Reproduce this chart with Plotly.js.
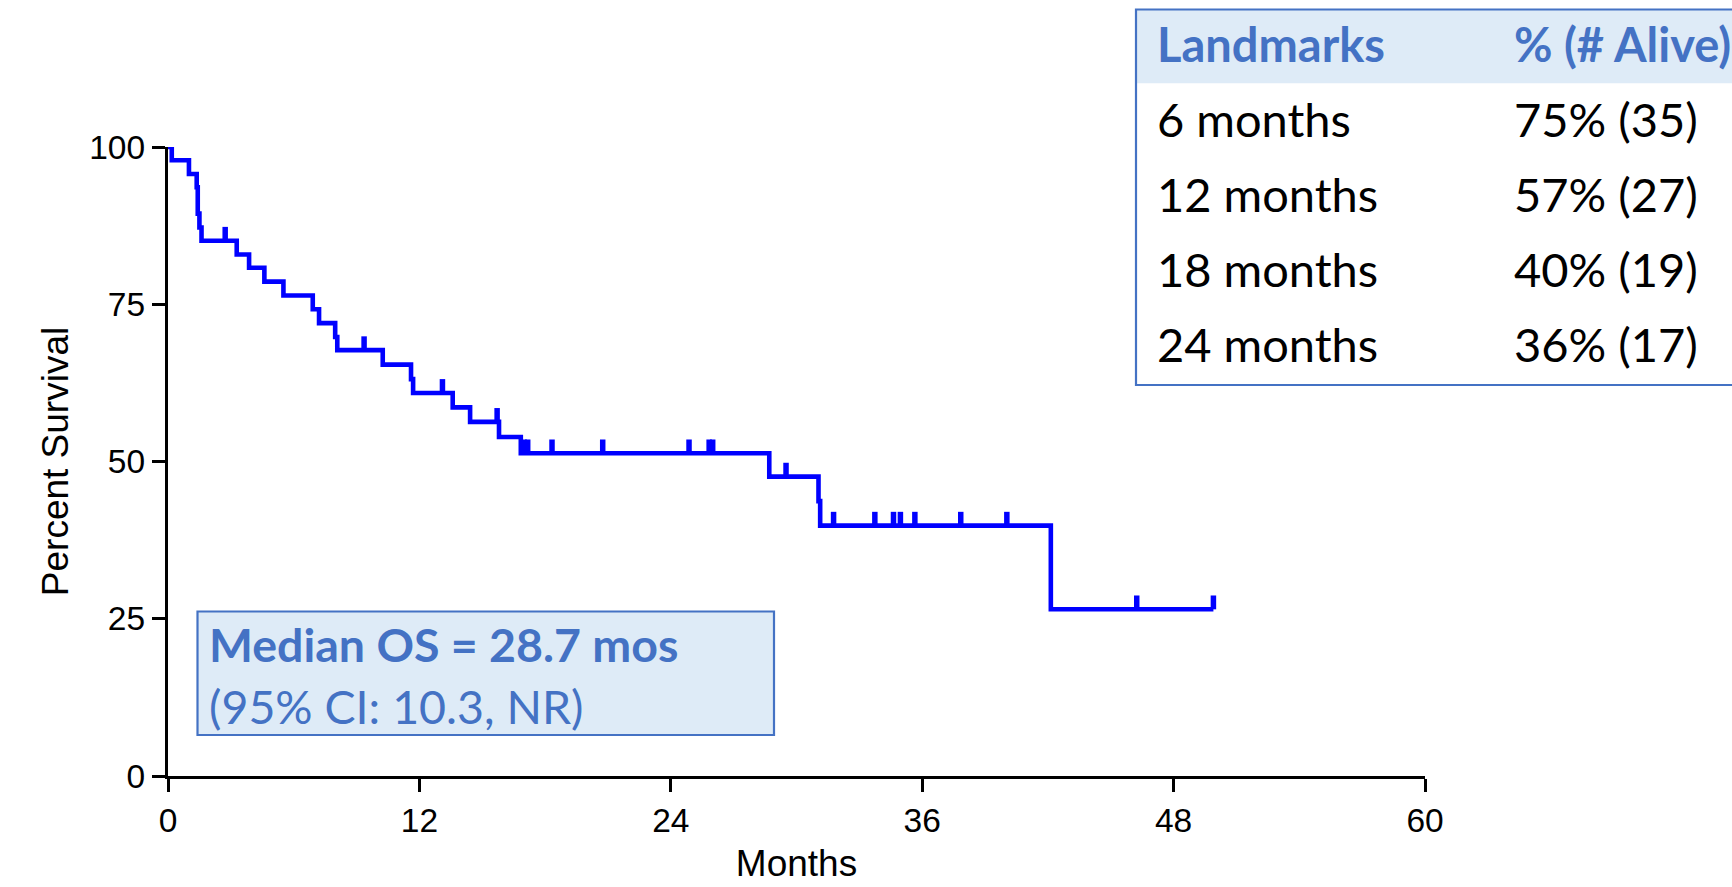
<!DOCTYPE html>
<html><head><meta charset="utf-8">
<script src="https://cdn.plot.ly/plotly-3.0.1.min.js"></script>
<style>html,body{margin:0;padding:0;background:#fff;overflow:hidden}#chart{width:1732px;height:887px}</style>
</head><body><div id="chart"></div>
<script>
// ---- data ----
const stepMonths   = [0, 0.18, 1.0, 1.37, 1.42, 1.50, 1.60, 3.28, 3.87, 4.60, 5.51, 6.91, 7.21, 7.98, 8.08, 10.25, 11.60, 11.70, 13.59, 14.42, 15.80, 16.84, 28.70, 31.05, 31.13, 42.14];
const stepSurvival = [100, 97.9, 95.7, 93.6, 89.4, 87.2, 85.1, 82.9, 80.8, 78.6, 76.4, 74.2, 72.0, 69.8, 67.7, 65.4, 63.1, 60.9, 58.6, 56.3, 53.9, 51.3, 47.6, 43.7, 39.8, 26.5];
const lastFollowUp = 49.9;
const censorMonths = [2.73, 9.36, 13.1, 15.71, 17.0, 17.17, 18.33, 20.75, 24.87, 25.83, 26.0, 29.5, 31.77, 33.74, 34.63, 34.96, 35.65, 37.84, 40.04, 46.24, 49.9];
const xTickVals = [0, 12, 24, 36, 48, 60];
const yTickVals = [0, 25, 50, 75, 100];
const medianLines = ["Median OS = 28.7 mos", "(95% CI: 10.3, NR)"];
const landmarkHeader = ["Landmarks", "% (# Alive)"];
const landmarkLabels = ["6 months", "12 months", "18 months", "24 months"];
const landmarkValues = ["75% (35)", "57% (27)", "40% (19)", "36% (17)"];

// ---- geometry / style ----
const W = 1732, H = 887, L = 168, R = 307, T = 147, B = 111;
const PW = W - L - R, PH = H - T - B;
const px = x => (x - L) / PW;
const py = y => (H - B - y) / PH;
const BLUE = '#0000FF', ACC = '#4472C4', FILL = '#DEEBF7';
const AX_FONT = 'Liberation Sans, Arial, sans-serif';
const TXT_FONT = 'Lato, Carlito, Calibri, sans-serif';
const CENSOR_LEN = 2.2; // tick length in % units

function survivalAt(t) {
  let s = stepSurvival[0];
  for (let i = 0; i < stepMonths.length; i++) if (stepMonths[i] <= t) s = stepSurvival[i];
  return s;
}

const curveX = stepMonths.concat([lastFollowUp]);
const curveY = stepSurvival.concat([stepSurvival[stepSurvival.length - 1]]);

const traces = [
  {x: curveX, y: curveY, type: 'scatter', mode: 'lines', line: {shape: 'hv', color: BLUE, width: 4.6}, hoverinfo: 'skip'},
  {x: censorMonths, y: censorMonths.map(survivalAt), type: 'scatter', mode: 'markers',
   marker: {size: 1, color: 'rgba(0,0,0,0)'},
   error_y: {type: 'data', symmetric: false, array: censorMonths.map(() => CENSOR_LEN), arrayminus: censorMonths.map(() => 0), width: 0, thickness: 5.5, color: BLUE},
   hoverinfo: 'skip'}
];

const shapes = [
  {type: 'rect', xref: 'paper', yref: 'paper', x0: px(197.5), x1: px(774), y0: py(735), y1: py(611.5), fillcolor: FILL, line: {color: ACC, width: 2.2}},
  {type: 'rect', xref: 'paper', yref: 'paper', x0: px(1136), x1: px(1760), y0: py(83.3), y1: py(9.5), fillcolor: FILL, line: {width: 0}},
  {type: 'rect', xref: 'paper', yref: 'paper', x0: px(1136), x1: px(1760), y0: py(385), y1: py(9.5), fillcolor: 'rgba(0,0,0,0)', line: {color: ACC, width: 2.2}}
];

const MFS = 46.5, TFS = 47;
const ann = [];
function addText(text, x, yc, size, color) {
  ann.push({text: text, xref: 'paper', yref: 'paper', x: px(x), y: py(yc), xanchor: 'left', yanchor: 'middle', showarrow: false,
    font: {family: TXT_FONT, size: size, color: color}});
}
addText('<b>' + medianLines[0] + '</b>', 207, 644, MFS, ACC);
addText(medianLines[1], 207, 706, MFS, ACC);
addText('<b>' + landmarkHeader[0] + '</b>', 1155, 44, TFS, ACC);
addText('<b>' + landmarkHeader[1] + '</b>', 1512, 44, TFS, ACC);
const rowY = [119, 194, 269, 344];
landmarkLabels.forEach((t, i) => addText(t, 1155, rowY[i], TFS, '#000'));
landmarkValues.forEach((t, i) => addText(t, 1512, rowY[i], TFS, '#000'));

const axisCommon = {
  showline: true, linecolor: '#000', linewidth: 3.2, ticks: 'outside', ticklen: 13, tickwidth: 3, tickcolor: '#000',
  showgrid: false, zeroline: false, tickfont: {family: AX_FONT, size: 33.5, color: '#000'}, fixedrange: true
};
const layout = {
  width: W, height: H, margin: {l: L, r: R, t: T, b: B, pad: 0},
  paper_bgcolor: '#fff', plot_bgcolor: '#fff', showlegend: false,
  xaxis: Object.assign({}, axisCommon, {range: [0, 60], tickvals: xTickVals, ticktext: xTickVals.map(String),
    title: {text: 'Months', font: {family: AX_FONT, size: 37, color: '#000'}, standoff: 12}}),
  yaxis: Object.assign({}, axisCommon, {range: [0, 100], tickvals: yTickVals, ticktext: yTickVals.map(String),
    title: {text: 'Percent Survival', font: {family: AX_FONT, size: 37, color: '#000'}, standoff: 10}}),
  shapes: shapes, annotations: ann
};
Plotly.newPlot('chart', traces, layout, {staticPlot: true, displayModeBar: false});
</script></body></html>
